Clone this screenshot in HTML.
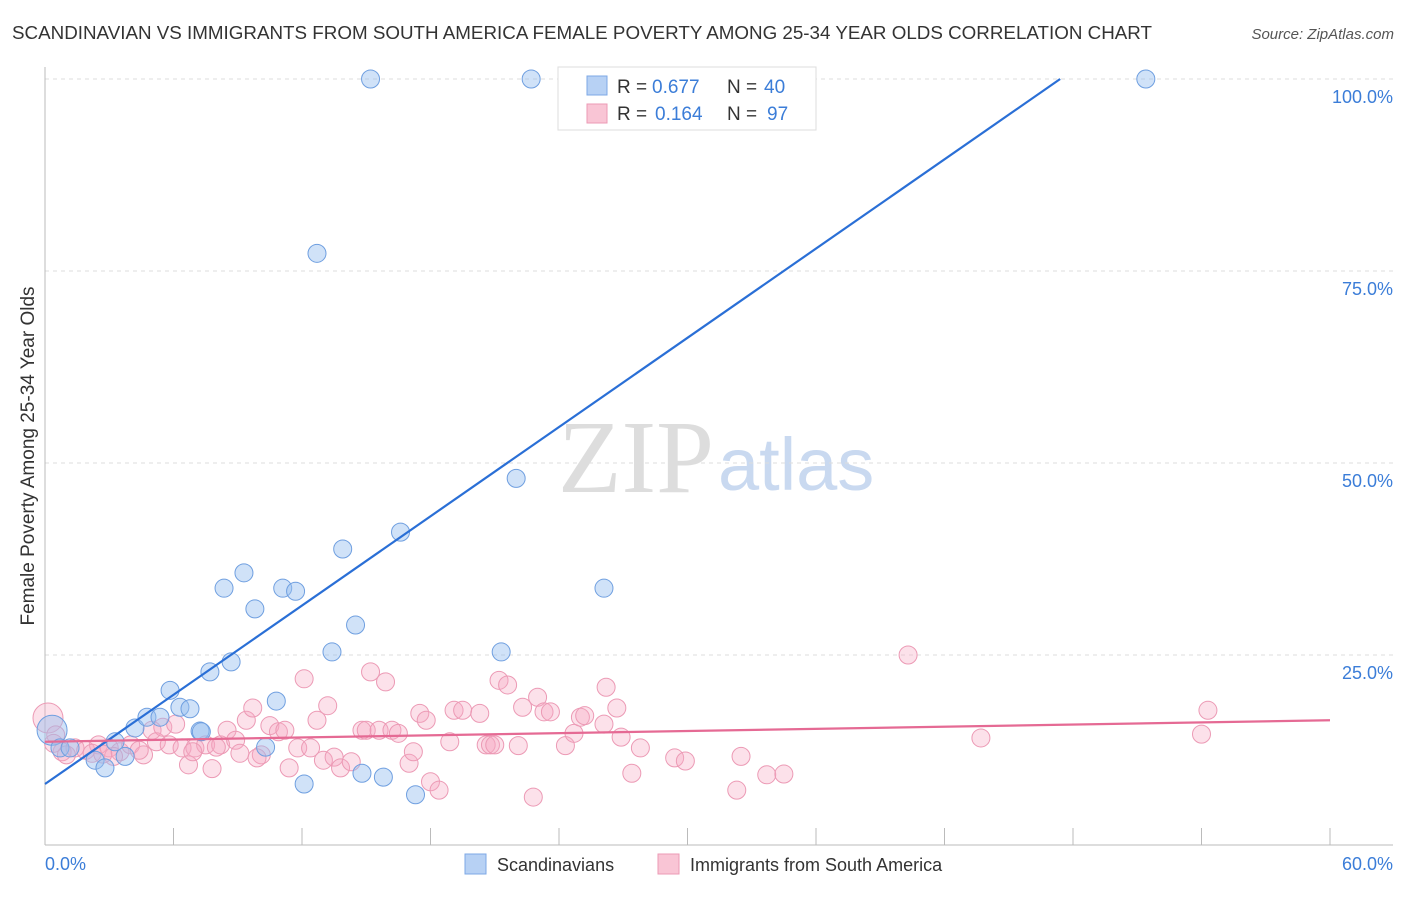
<!DOCTYPE html>
<html><head><meta charset="utf-8"><style>
body{margin:0;background:#fff;font-family:"Liberation Sans",sans-serif;}
svg text{font-family:"Liberation Sans",sans-serif;}
</style></head><body>
<svg id="chart" width="1406" height="892">
<text x="12" y="39" font-size="18" fill="#333" textLength="1140" lengthAdjust="spacingAndGlyphs">SCANDINAVIAN VS IMMIGRANTS FROM SOUTH AMERICA FEMALE POVERTY AMONG 25-34 YEAR OLDS CORRELATION CHART</text>
<text x="1394" y="39" font-size="15" fill="#555" text-anchor="end" font-style="italic">Source: ZipAtlas.com</text>
<text x="714" y="492" font-size="104" fill="#ddd" font-family="Liberation Serif" text-anchor="end" style="font-family:'Liberation Serif',serif">ZIP</text>
<text x="718" y="490" font-size="74" fill="#c9d9f0">atlas</text>
<g id="grid"></g>
<g id="axes"></g>
<g id="pts"></g>
<g id="lines"></g>
<text transform="translate(34,456) rotate(-90)" font-size="19" fill="#333" text-anchor="middle">Female Poverty Among 25-34 Year Olds</text>
<text x="45" y="870" font-size="18" fill="#3b7dd8">0.0%</text>
<text x="1393" y="870" font-size="18" fill="#3b7dd8" text-anchor="end">60.0%</text>
<g>
<rect x="558" y="67" width="258" height="63" fill="#fff" stroke="#ddd"/>
<rect x="587" y="76" width="20" height="19" fill="#b7d1f4" stroke="#7ea8e6"/>
<rect x="587" y="104" width="20" height="19" fill="#f9c5d5" stroke="#ec9ab5"/>
<text x="617" y="93" font-size="19" fill="#333">R =</text>
<text x="652" y="93" font-size="19" fill="#3b7dd8">0.677</text>
<text x="727" y="93" font-size="19" fill="#333">N =</text>
<text x="764" y="93" font-size="19" fill="#3b7dd8">40</text>
<text x="617" y="120" font-size="19" fill="#333">R =</text>
<text x="655" y="120" font-size="19" fill="#3b7dd8">0.164</text>
<text x="727" y="120" font-size="19" fill="#333">N =</text>
<text x="767" y="120" font-size="19" fill="#3b7dd8">97</text>
</g>
<g>
<rect x="465" y="854" width="21" height="20" fill="#b7d1f4" stroke="#7ea8e6"/>
<text x="497" y="871" font-size="18" fill="#333">Scandinavians</text>
<rect x="658" y="854" width="21" height="20" fill="#f9c5d5" stroke="#ec9ab5"/>
<text x="690" y="871" font-size="18" fill="#333">Immigrants from South America</text>
</g>
</svg>
<script>
const yTicks=[25,50,75,100];
const yTickLabels=["25.0%","50.0%","75.0%","100.0%"];
const blueX=[0.33,0.7,1.17,2.34,2.8,3.74,3.27,4.2,4.76,5.37,5.84,6.3,6.77,7.24,7.7,8.36,8.69,9.29,9.8,10.3,10.8,11.1,11.7,12.1,12.7,13.4,13.9,14.5,14.8,15.2,15.8,16.6,17.3,21.3,22.0,22.7,25.8,26.1,51.4,7.3];
const blueY=[15.2,12.9,12.9,11.3,10.3,11.8,13.7,15.5,16.9,16.9,20.4,18.2,18.0,15.1,22.8,33.7,24.1,35.7,31.0,13.0,19.0,33.7,33.3,8.2,77.3,25.4,38.8,28.9,9.6,100,9.1,41.0,6.8,25.4,48.0,100,100,33.7,100,15.0];
const pinkX=[0.14,0.5,0.8,1.4,1.9,2.5,3.0,3.5,4.0,4.6,5.0,5.2,5.5,5.8,6.1,6.4,6.7,7.0,7.5,7.8,8.2,8.5,8.9,9.1,9.4,9.7,10.1,10.5,10.9,11.2,11.4,11.8,12.1,12.4,12.7,13.0,13.2,13.5,13.8,14.3,14.8,15.0,15.2,15.6,15.9,16.2,16.5,17.0,17.2,17.5,17.8,18.0,18.4,18.9,19.1,19.5,20.3,20.6,20.8,21.0,21.2,21.6,22.1,22.3,22.8,23.0,23.3,23.6,24.3,24.7,25.0,25.2,26.1,26.2,26.7,26.9,27.4,27.8,29.4,29.9,32.3,32.5,33.7,34.5,40.3,43.7,54.0,54.3,1.0,2.2,3.2,4.4,6.9,8.0,9.9,0.4,2.7];
const pinkY=[16.8,14.6,12.4,12.9,12.6,13.3,12.9,12.4,13.3,12.0,15.2,13.7,15.6,13.3,16.0,12.9,10.7,12.9,13.3,10.2,13.3,15.2,13.9,12.2,16.5,18.1,12.0,15.8,15.0,15.2,10.3,12.9,21.9,12.9,16.5,11.3,18.4,11.7,10.3,11.1,15.2,15.2,22.8,15.2,21.5,15.2,14.8,10.9,12.4,17.4,16.5,8.5,7.4,13.7,17.8,17.8,17.4,13.3,13.3,13.3,21.7,21.1,13.2,18.2,6.5,19.5,17.6,17.6,13.2,14.8,16.9,17.1,16.0,20.8,18.1,14.3,9.6,12.9,11.6,11.2,7.4,11.8,9.4,9.5,25.0,14.2,14.7,17.8,12.0,12.2,11.8,12.6,12.4,13.0,11.6,13.5,12.1];
const blueLine=[0,8.2,47.4,100];
const pinkLine=[0,13.7,60,16.5];
const NS="http://www.w3.org/2000/svg";
const X0=45,X1=1330,YB=847,YT=79;
const sx=v=>X0+v/60*(X1-X0);
const sy=v=>YB-v/100*(YB-YT);
function mk(t,a,p){const e=document.createElementNS(NS,t);for(const k in a)e.setAttribute(k,a[k]);p.appendChild(e);return e;}
const grid=document.getElementById('grid'),axes=document.getElementById('axes'),pts=document.getElementById('pts'),lines=document.getElementById('lines');
yTicks.forEach((t,i)=>{
 const g=mk('line',{x1:X0,x2:1393,y1:sy(t),y2:sy(t),stroke:'#ddd','stroke-dasharray':'4,4'},grid);
 
 
 const tx=mk('text',{x:1393,y:sy(t)+24,'font-size':18,fill:'#3b7dd8','text-anchor':'end'},grid);
 tx.textContent=yTickLabels[i];
 
 
});
const ax=mk('line',{x1:X0,x2:X0,y1:67,y2:845,stroke:'#bbb'},axes);


const bx=mk('line',{x1:X0,x2:1393,y1:845,y2:845,stroke:'#bbb'},axes);


for(let i=0;i<=10;i++){
 const t=mk('line',{x1:sx(i*6),x2:sx(i*6),y1:828,y2:845,stroke:'#bbb'},axes);
 
 
}
pinkX.forEach((x,i)=>{
 const c=mk('circle',{cx:sx(x),cy:sy(pinkY[i]),r:i==0?15:9,fill:'rgba(246,170,196,0.35)',stroke:'#ec9ab5','stroke-width':1},pts);
 
 
});
blueX.forEach((x,i)=>{
 const c=mk('circle',{cx:sx(x),cy:sy(blueY[i]),r:i==0?15:9,fill:'rgba(150,190,240,0.45)',stroke:'#6f9fe0','stroke-width':1},pts);
 
 
});
const bl=mk('line',{x1:sx(blueLine[0]),y1:sy(blueLine[1]),x2:sx(blueLine[2]),y2:sy(blueLine[3]),stroke:'#2a6fd6','stroke-width':2.2},lines);


const pl=mk('line',{x1:sx(pinkLine[0]),y1:sy(pinkLine[1]),x2:sx(pinkLine[2]),y2:sy(pinkLine[3]),stroke:'#e56a94','stroke-width':2.2},lines);


</script>
</body></html>
